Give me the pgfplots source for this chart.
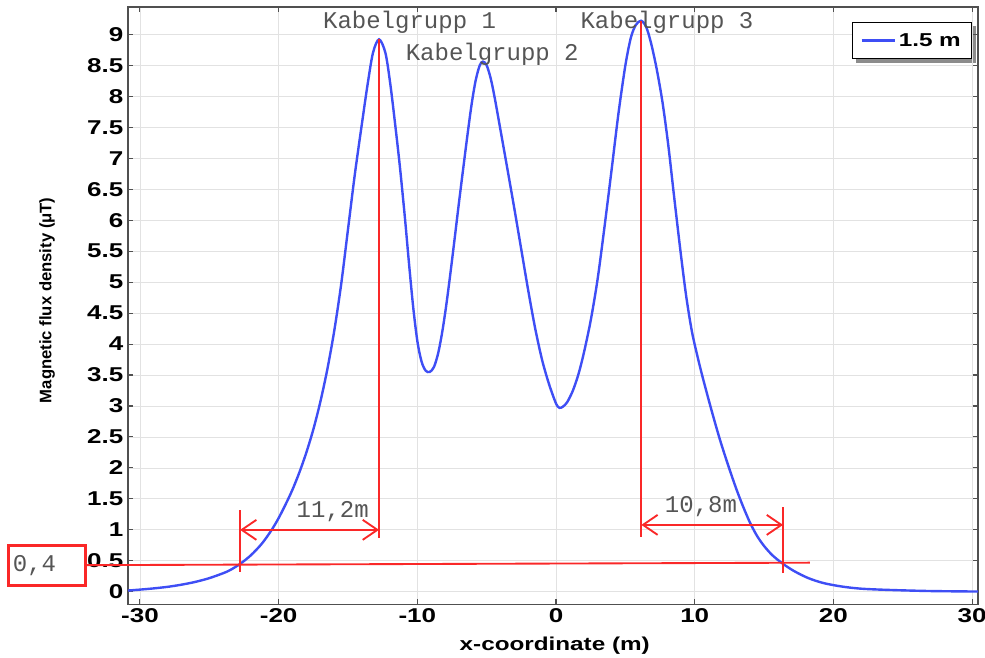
\documentclass[border=0pt]{standalone}
\usepackage{fontspec}
\usepackage{pgfplots}
\pgfplotsset{compat=1.18}
\usetikzlibrary{arrows.meta,backgrounds}
\setmainfont{Liberation Sans}
\newfontfamily\chartfont{Liberation Sans}[FakeStretch=1.3]
\newfontfamily\annfont{Liberation Mono}

\definecolor{curveblue}{RGB}{62,78,245}
\definecolor{annred}{RGB}{250,40,40}
\definecolor{anngray}{RGB}{85,85,85}
\definecolor{gridgray}{RGB}{226,226,226}
\definecolor{axgray}{RGB}{80,80,80}

\begin{document}
\begin{tikzpicture}
\begin{axis}[
  scale only axis,
  width=637.5pt, height=447.75pt,
  xmin=-30.86, xmax=30.43,
  ymin=-0.2, ymax=9.44,
  xtick={-30,-20,...,30},
  ytick={0,0.5,...,9},
  tick pos=both, ticklabel pos=left,
  tick align=inside,
  major tick length=4pt,
  grid=major,
  major grid style={gridgray, line width=0.6pt},
  axis line style={axgray, line width=1pt},
  tick style={axgray, line width=0.8pt},
  /pgf/number format/assume math mode=true,
  tick label style={font=\chartfont\bfseries\fontsize{15}{15}\selectfont},
  xlabel={x-coordinate (m)},
  ylabel={Magnetic flux density (μT)},
  xlabel style={font=\chartfont\bfseries\fontsize{14}{14}\selectfont,
    at={(axis description cs:0.502,-0.070)}, anchor=center},
  ylabel style={font=\bfseries\fontsize{12.5}{12.5}\selectfont,
    at={(axis description cs:-0.0953,0.509)}, anchor=center},
  legend style={at={(axis description cs:0.9929,0.975)}, anchor=north east,
    name=leg, draw=black, line width=0.8pt, fill=white,
    font=\chartfont\bfseries\fontsize{14}{14}\selectfont,
    inner xsep=6pt, inner ysep=6pt},
  legend image code/.code={\draw[#1] (0pt,0pt) -- (25pt,0pt);},
  clip=false,
]
\addplot[curveblue, line width=1.8pt, smooth, tension=0.5] coordinates {
(-30.86,0.02) (-30,0.035) (-29,0.055) (-28,0.08) (-27,0.115) (-26,0.16)
(-25,0.22) (-24,0.30) (-23.5,0.35) (-22.78,0.45) (-22,0.59) (-21.2,0.78)
(-20.5,1.0) (-20,1.19) (-19.5,1.41) (-19,1.65) (-18.5,1.93) (-18,2.25)
(-17.5,2.62) (-17,3.06) (-16.5,3.58) (-16,4.2) (-15.5,4.95) (-15,5.85)
(-14.5,6.75) (-14,7.55) (-13.6,8.17) (-13.2,8.7) (-12.76,8.92) (-12.3,8.7)
(-11.95,8.2) (-11.6,7.55) (-11.26,6.87) (-10.9,6.05) (-10.6,5.3) (-10.3,4.6)
(-10.0,4.05) (-9.7,3.72) (-9.4,3.57) (-9.1,3.55) (-8.8,3.63) (-8.5,3.85)
(-8.2,4.2) (-7.9,4.65) (-7.6,5.17) (-7.3,5.72) (-7.0,6.28) (-6.7,6.82)
(-6.4,7.35) (-6.1,7.85) (-5.8,8.25) (-5.5,8.5) (-5.27,8.56) (-5.0,8.5)
(-4.7,8.28) (-4.4,7.95) (-4.0,7.45) (-3.5,6.82) (-3.0,6.18) (-2.5,5.52)
(-2.0,4.86) (-1.5,4.25) (-1.0,3.74) (-0.5,3.35) (0.0,3.04) (0.25,2.97)
(0.5,2.99) (0.8,3.06) (1.2,3.24) (1.6,3.5) (2.0,3.85) (2.5,4.38)
(3.0,5.05) (3.5,5.9) (4.0,6.8) (4.5,7.72) (5.0,8.5) (5.4,8.95)
(5.75,9.15) (6.13,9.22) (6.5,9.12) (6.85,8.86) (7.25,8.45) (7.68,7.9)
(8.1,7.2) (8.53,6.35) (9.0,5.45) (9.4,4.75) (9.8,4.2) (10.2,3.8)
(10.6,3.44) (11.2,2.94) (11.8,2.47) (12.4,2.05) (13.0,1.66) (13.5,1.37)
(14.0,1.11) (14.5,0.9) (15.0,0.74) (15.6,0.59) (16.37,0.45) (17.2,0.33)
(18.2,0.22) (19.3,0.14) (20.6,0.085) (22,0.05) (24,0.03) (27,0.012)
(30.43,0.004)
};
\addlegendentry{1.5 m}

% red annotations
\draw[annred, line width=1.4pt] (axis cs:-33.9,0.43) -- (axis cs:18.3,0.47);
\draw[annred, line width=1.4pt] (axis cs:-22.78,0.32) -- (axis cs:-22.78,1.32);
\draw[annred, line width=1.4pt] (axis cs:-12.76,8.92) -- (axis cs:-12.76,0.87);
\draw[annred, line width=1.4pt] (axis cs:6.15,9.22) -- (axis cs:6.15,0.89);
\draw[annred, line width=1.4pt] (axis cs:16.37,0.30) -- (axis cs:16.37,1.37);
\draw[annred, line width=1.4pt, {Straight Barb[length=11pt,width=15pt]}-{Straight Barb[length=11pt,width=15pt]}]
  (axis cs:-22.78,1.0) -- (axis cs:-12.76,1.0);
\draw[annred, line width=1.4pt, {Straight Barb[length=11pt,width=15pt]}-{Straight Barb[length=11pt,width=15pt]}]
  (axis cs:6.15,1.08) -- (axis cs:16.37,1.08);
\draw[annred, line width=2.2pt] (axis cs:-39.5,0.108) rectangle (axis cs:-33.9,0.754);

\node[anngray, font=\annfont\fontsize{18}{18}\selectfont] at (axis cs:-37.6,0.43) {0,4};
\node[anngray, font=\annfont\fontsize{18}{18}\selectfont] at (axis cs:-16.1,1.30) {11,2m};
\node[anngray, font=\annfont\fontsize{18}{18}\selectfont] at (axis cs:10.45,1.37) {10,8m};
\node[anngray, font=\annfont\fontsize{18}{18}\selectfont] at (axis cs:-10.56,9.2) {Kabelgrupp 1};
\node[anngray, font=\annfont\fontsize{18}{18}\selectfont] at (axis cs:-4.6,8.68) {Kabelgrupp 2};
\node[anngray, font=\annfont\fontsize{18}{18}\selectfont] at (axis cs:8.0,9.2) {Kabelgrupp 3};

\coordinate (bbsw) at (axis cs:-40.09,-1.055);
\coordinate (bbne) at (axis cs:30.93,9.555);
\end{axis}
\begin{scope}[on background layer]
  \fill[black!45] ([shift={(3pt,-3pt)}]leg.south west) rectangle ([shift={(3pt,-3pt)}]leg.north east);
\end{scope}
\pgfresetboundingbox
\useasboundingbox (bbsw) rectangle (bbne);
\end{tikzpicture}
\end{document}
